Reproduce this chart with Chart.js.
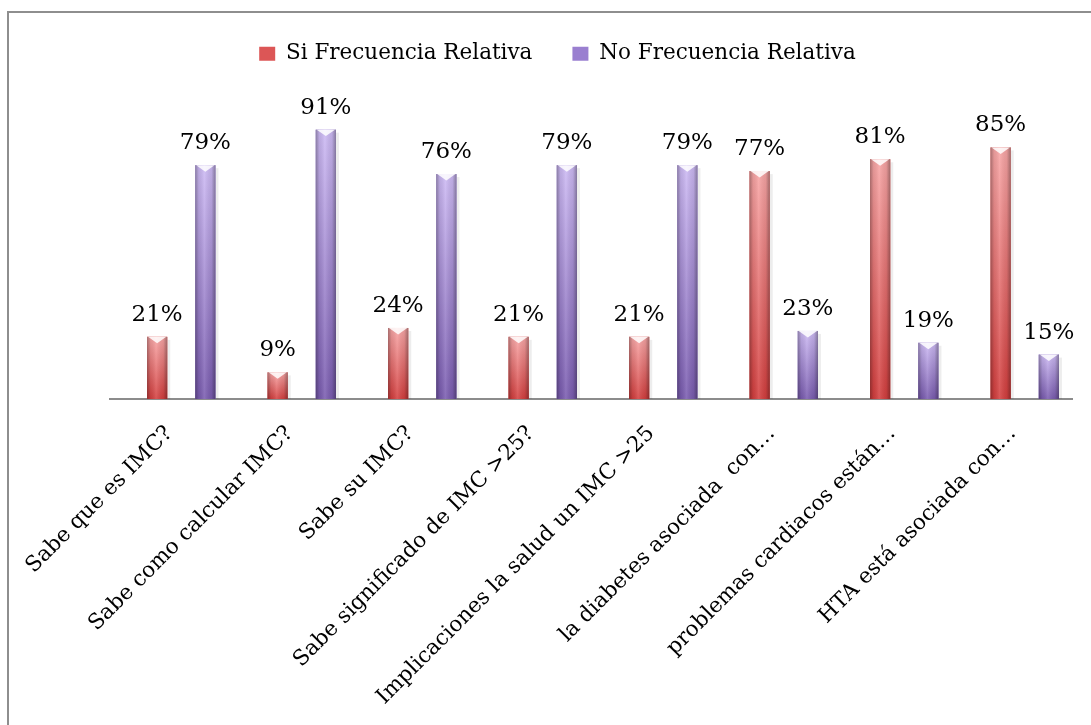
<!DOCTYPE html>
<html>
<head>
<meta charset="utf-8">
<script src="https://cdn.jsdelivr.net/npm/chart.js@4.4.0/dist/chart.umd.min.js"></script>
<style>
  html, body { margin: 0; padding: 0; background: #fff; overflow: hidden; }
  #wrap { position: relative; width: 1091px; height: 725px; }
  #frame {
    position: absolute; left: 7px; top: 11px; width: 1200px; height: 800px;
    border: 2px solid #8e8e8e; pointer-events: none;
  }
</style>
</head>
<body>
<div id="wrap">
  <canvas id="chart" width="1091" height="725"></canvas>
  <div id="frame"></div>
</div>
<script>
const categories = [
  "Sabe que es IMC?",
  "Sabe como calcular IMC?",
  "Sabe su IMC?",
  "Sabe significado de IMC >25?",
  "Implicaciones la salud un IMC >25",
  "la diabetes asociada  con…",
  "problemas cardiacos están…",
  "HTA está asociada con…",
];
const seriesNames = ["Si Frecuencia Relativa", "No Frecuencia Relativa"];
const siValues = [21, 9, 24, 21, 21, 77, 81, 85];
const noValues = [79, 91, 76, 79, 79, 23, 19, 15];

const FONT = "'DejaVu Serif', serif";

// top/bottom colours of each series' bars
const tones = [
  { flat: "#dc5656", top: "#f8a6a6", bottom: "#d43f3f" },
  { flat: "#9a7fd0", top: "#cdbaf4", bottom: "#7a5cb0" },
];

// gray floor line, slightly shifted left like a 3D floor
const floorLine = {
  id: "floorLine",
  beforeDatasetsDraw(chart) {
    const { ctx, chartArea } = chart;
    const y0 = chart.scales.y.getPixelForValue(0);
    ctx.save();
    ctx.strokeStyle = "#8c8c8c";
    ctx.lineWidth = 2;
    ctx.beginPath();
    ctx.moveTo(chartArea.left - 12, y0);
    ctx.lineTo(chartArea.right - 12, y0);
    ctx.stroke();
    ctx.restore();
  },
};

// cylinder-like shading, top chevron and value labels
const barShading = {
  id: "barShading",
  afterDatasetsDraw(chart) {
    const ctx = chart.ctx;
    chart.data.datasets.forEach((ds, i) => {
      const meta = chart.getDatasetMeta(i);
      const tone = tones[i];
      meta.data.forEach((bar, j) => {
        const { x, y, base, width } = bar.getProps(["x", "y", "base", "width"], true);
        const left = x - width / 2;
        const right = x + width / 2;
        const h = base - y;
        ctx.save();

        ctx.fillStyle = "rgba(0,0,0,0.07)";
        ctx.fillRect(right, y + 3, 3, h - 3);

        const v = ctx.createLinearGradient(0, y, 0, base);
        v.addColorStop(0, tone.top);
        v.addColorStop(1, tone.bottom);
        ctx.fillStyle = v;
        ctx.fillRect(left, y, width, h);

        const g = ctx.createLinearGradient(left, 0, right, 0);
        g.addColorStop(0, "rgba(0,0,0,0.32)");
        g.addColorStop(0.18, "rgba(0,0,0,0.08)");
        g.addColorStop(0.45, "rgba(255,255,255,0.12)");
        g.addColorStop(0.8, "rgba(0,0,0,0.08)");
        g.addColorStop(1, "rgba(0,0,0,0.35)");
        ctx.fillStyle = g;
        ctx.fillRect(left, y, width, h);

        ctx.beginPath();
        ctx.moveTo(left + 1, y);
        ctx.lineTo(right - 1, y);
        ctx.lineTo(x, y + width * 0.32);
        ctx.closePath();
        ctx.fillStyle = "rgba(255,255,255,0.85)";
        ctx.fill();

        ctx.fillStyle = "#000";
        ctx.font = "23px " + FONT;
        ctx.textAlign = "center";
        ctx.textBaseline = "alphabetic";
        ctx.fillText(ds.data[j] + "%", x, y - 16);
        ctx.restore();
      });
    });
  },
};

// fixed legend band height above the plot
const legendBand = {
  id: "legendBand",
  beforeInit(chart) {
    const fit = chart.legend.fit;
    chart.legend.fit = function () {
      fit.bind(chart.legend)();
      this.height = 100;
    };
  },
};

new Chart(document.getElementById("chart"), {
  type: "bar",
  data: {
    labels: categories,
    datasets: [
      {
        label: seriesNames[0],
        data: siValues,
        backgroundColor: tones[0].flat,
        categoryPercentage: 0.8,
        barPercentage: 0.42,
      },
      {
        label: seriesNames[1],
        data: noValues,
        backgroundColor: tones[1].flat,
        categoryPercentage: 0.8,
        barPercentage: 0.42,
      },
    ],
  },
  options: {
    responsive: false,
    animation: false,
    layout: { padding: { left: 30, right: 6, top: 3, bottom: 0 } },
    plugins: {
      legend: {
        position: "top",
        labels: {
          color: "#000",
          font: { family: FONT, size: 21.5 },
          boxWidth: 16,
          boxHeight: 14,
          padding: 40,
        },
      },
      tooltip: { enabled: false },
    },
    scales: {
      x: {
        grid: { display: false, drawTicks: false },
        border: { display: false },
        ticks: {
          color: "#000",
          font: { family: FONT, size: 21.5 },
          minRotation: 45,
          maxRotation: 45,
          autoSkip: false,
          padding: 22,
          labelOffset: -12,
        },
        afterFit(scale) {
          scale.height = 326;
        },
      },
      y: {
        min: 0,
        max: 100,
        grid: { display: false, drawTicks: false },
        border: { display: false },
        ticks: { display: false },
        afterFit(scale) {
          scale.width = 91;
        },
      },
    },
  },
  plugins: [legendBand, floorLine, barShading],
});
</script>
</body>
</html>
